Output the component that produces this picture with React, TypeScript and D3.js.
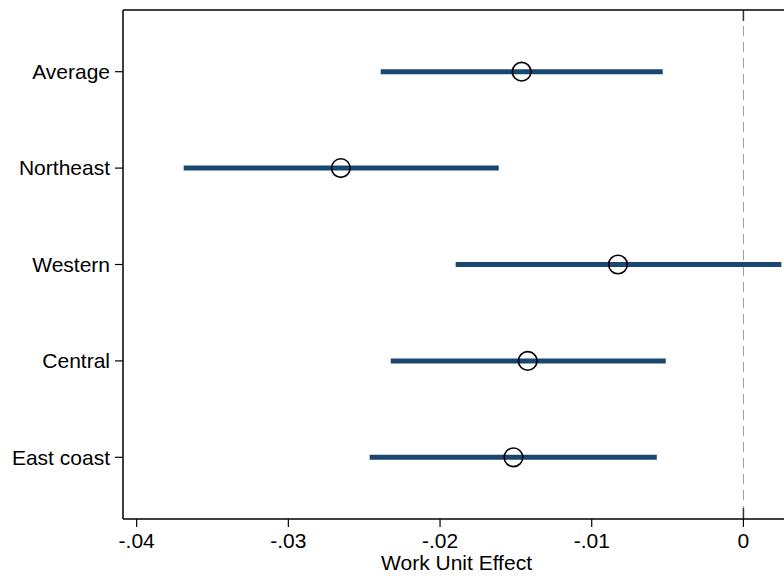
import React from "react";
import * as d3 from "d3";

// coefficient plot: work unit effect by region, 95% intervals

const regions = ["Average", "Northeast", "Western", "Central", "East coast"];
const estimates = [-0.01462, -0.02654, -0.00827, -0.01422, -0.01516];
const lowerCI = [-0.02391, -0.0369, -0.01897, -0.02325, -0.02464];
const upperCI = [-0.00532, -0.01613, 0.0025, -0.00512, -0.00571];
const xTicks = [-0.04, -0.03, -0.02, -0.01, 0];
const xTickLabels = ["-.04", "-.03", "-.02", "-.01", "0"];

const W = 784;
const H = 576;
const margin = { top: 10, right: -6, bottom: 57, left: 123 };
const font = "'Liberation Sans', Arial, Helvetica, sans-serif";
const fs = 21;

export default function App() {
  const innerW = W - margin.left - margin.right;
  const innerH = H - margin.top - margin.bottom;

  const x = d3.scaleLinear().domain([-0.0409, 0.00307]).range([0, innerW]);
  const y = d3.scalePoint<string>().domain(regions).range([0, innerH]).padding(0.64);

  const zx = x(0);

  return (
    <svg
      width={W}
      height={H}
      style={{ position: "absolute", left: 0, top: 0, background: "#fff" }}
      fontFamily={font}
    >
      <defs>
        <clipPath id="plot-clip">
          <rect x={0} y={0} width={innerW} height={innerH} />
        </clipPath>
      </defs>
      <g transform={`translate(${margin.left},${margin.top})`}>
        {/* reference line at zero */}
        <line x1={zx} x2={zx} y1={0} y2={innerH} stroke="#9a9a9a" strokeWidth={1} strokeDasharray="10,6" />
        <line x1={zx} x2={zx} y1={0} y2={11} stroke="#333" strokeWidth={1.5} />
        <line x1={zx} x2={zx} y1={innerH - 11} y2={innerH} stroke="#333" strokeWidth={1.5} />

        <g clipPath="url(#plot-clip)">
          {regions.map((r, i) => (
            <line
              key={r}
              x1={x(lowerCI[i])}
              x2={x(upperCI[i])}
              y1={y(r)}
              y2={y(r)}
              stroke="#1a476f"
              strokeWidth={5}
            />
          ))}
          {regions.map((r, i) => (
            <circle
              key={r}
              cx={x(estimates[i])}
              cy={y(r)}
              r={9.3}
              fill="none"
              stroke="#000"
              strokeWidth={1.6}
            />
          ))}
        </g>

        {/* frame: left, top, bottom */}
        <line x1={0} x2={0} y1={0} y2={innerH} stroke="#000" strokeWidth={1.5} />
        <line x1={0} x2={innerW} y1={0} y2={0} stroke="#000" strokeWidth={1.5} />
        <line x1={0} x2={innerW} y1={innerH} y2={innerH} stroke="#000" strokeWidth={1.5} />

        {/* y axis */}
        {regions.map((r) => (
          <g key={r} transform={`translate(0,${y(r)})`}>
            <line x1={-8} x2={0} stroke="#000" strokeWidth={1.2} />
            <text x={-13} dy="0.35em" textAnchor="end" fontSize={fs} fill="#000">
              {r}
            </text>
          </g>
        ))}

        {/* x axis */}
        {xTicks.map((t, i) => (
          <g key={t} transform={`translate(${x(t)},${innerH})`}>
            <line y1={0} y2={8} stroke="#000" strokeWidth={1.2} />
            <text y={29} textAnchor="middle" fontSize={fs} fill="#000">
              {xTickLabels[i]}
            </text>
          </g>
        ))}
        <text x={innerW / 2} y={innerH + 51} textAnchor="middle" fontSize={fs} fill="#000">
          Work Unit Effect
        </text>
      </g>
    </svg>
  );
}
